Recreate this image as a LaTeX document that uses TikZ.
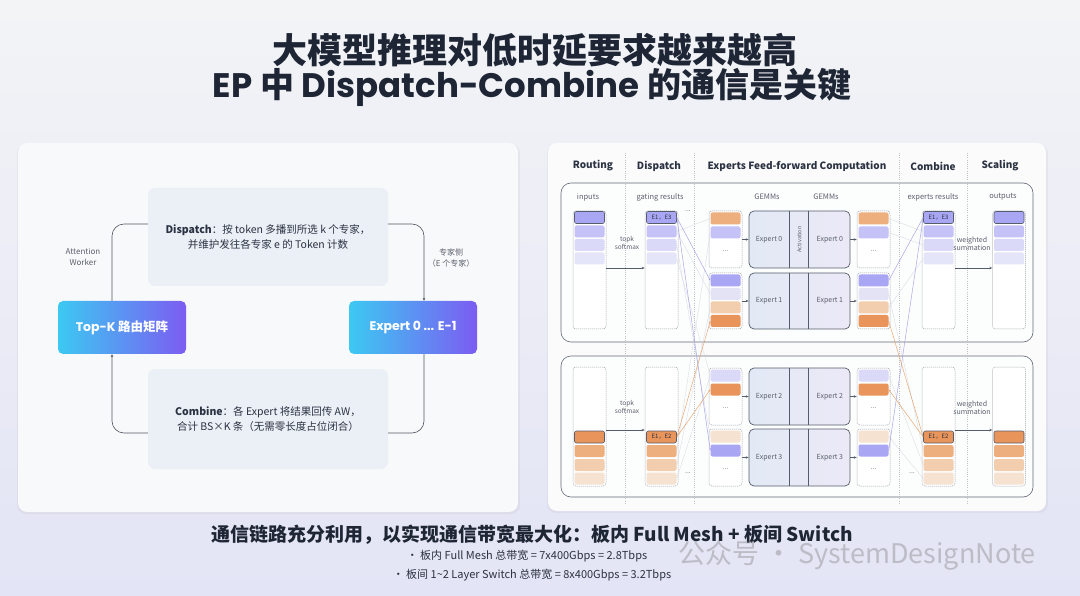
\documentclass[tikz,border=0pt]{standalone}
\usepackage{fontspec}
\setmainfont{Noto Sans CJK SC}
\newfontfamily\pop{Poppins}
\usetikzlibrary{arrows.meta,calc}
\newcommand\fsz[2]{\fontsize{#1}{#2}\selectfont}
\definecolor{ttl}{HTML}{1E2636}
\definecolor{txt}{HTML}{2B3242}
\definecolor{gry}{HTML}{5A606C}
\definecolor{panelc}{HTML}{F8F9FA}
\definecolor{boxbg}{HTML}{EBEFF6}
\definecolor{cyanc}{HTML}{3CC9F2}
\definecolor{purc}{HTML}{7C5CF2}
\definecolor{pA}{HTML}{A9A6F4}
\definecolor{pB}{HTML}{C4C2F6}
\definecolor{pC}{HTML}{DAD9F8}
\definecolor{pD}{HTML}{E5E5F9}
\definecolor{pL}{HTML}{E3E3F5}
\definecolor{oA}{HTML}{E8945A}
\definecolor{oB}{HTML}{EDAF7E}
\definecolor{oC}{HTML}{F2CEAF}
\definecolor{oD}{HTML}{F5E2D1}
\definecolor{colb}{HTML}{A2A6AE}
\definecolor{grpc}{HTML}{626977}
\definecolor{expl}{HTML}{E2E9F5}
\definecolor{expr}{HTML}{ECE9F7}
\definecolor{expd}{HTML}{555C6B}
\definecolor{bgtop}{HTML}{F3F4F6}
\definecolor{bgmid}{HTML}{EEF0F5}
\definecolor{bgbot}{HTML}{E3E4F5}
\definecolor{plin}{HTML}{9C99E4}
\definecolor{olin}{HTML}{E59A5C}
\definecolor{flin}{HTML}{C8CCDA}
\tikzset{
  mycol/.style={draw=colb, dash pattern=on 1.2pt off 0.8pt, line width=0.5pt, rounded corners=3pt, fill=white, minimum width=33pt, inner sep=0pt},
  mycell/.style={rounded corners=2pt, minimum width=30pt, minimum height=12pt, inner sep=0pt, font=\fsz{6}{7}, text=txt},
  myhi/.style={draw=expd, line width=0.6pt},
  mygrp/.style={draw=grpc, line width=0.6pt, rounded corners=10pt, fill=white!60!panelc},
  myhdr/.style={font=\bfseries\fsz{10}{12}, text=txt},
  myclab/.style={font=\fsz{7.5}{9}, text=gry},
  mysmall/.style={font=\fsz{6.5}{7.5}, text=gry, align=center},
  myelab/.style={font=\fsz{7}{8}, text=gry},
  mydots/.style={font=\fsz{7}{8}, text=gry},
  myarr/.style={-{Stealth[length=3pt,width=2.4pt]}, draw=expd, line width=0.6pt},
  myexp/.style={rounded corners=5pt, left color=expl, right color=expr, draw=expd, line width=0.7pt, minimum width=101pt, inner sep=0pt},
  mypl/.style={draw=plin, line width=0.5pt, opacity=0.85},
  myol/.style={draw=olin, line width=0.5pt, opacity=0.85},
  myfl/.style={draw=flin, line width=0.35pt, opacity=0.7},
  mysep/.style={draw=colb!70, line width=0.4pt, dash pattern=on 1pt off 1.2pt},
  mydbox/.style={fill=boxbg, rounded corners=7pt, minimum width=240pt, inner sep=0pt, align=center, font=\fsz{10.5}{15.5}, text=txt},
  mygrad/.style={rounded corners=5pt, left color=cyanc, right color=purc, minimum width=128pt, minimum height=53pt, inner sep=0pt, text=white, font=\pop\bfseries\fsz{12.5}{14}},
  myconn/.style={draw=gry!90!black, line width=0.6pt, rounded corners=12pt},
  myside/.style={font=\fsz{8}{10.5}, text=gry, align=center},
}
\begin{document}
\begin{tikzpicture}[x=1pt,y=-1pt]
\useasboundingbox (0,0) rectangle (1080,596);
\shade[top color=bgtop, middle color=bgmid, bottom color=bgbot] (0,0) rectangle (1080,596);
% title
\node[font=\bfseries\fsz{35}{40}, text=ttl] (t1) at (535,50) {大模型推理对低时延要求越来越高};
\node[font=\bfseries\fsz{34}{38}, text=ttl] (t2) at (532,87) {{\pop EP} 中 {\pop Dispatch-Combine} 的通信是关键};
% panels
\fill[black, opacity=0.04, rounded corners=9pt] (17,144) rectangle (520,514);
\fill[panelc, rounded corners=9pt] (18,143) rectangle (518,512);
\fill[black, opacity=0.04, rounded corners=9pt] (547,144) rectangle (1048,513);
\fill[white!40!panelc, rounded corners=9pt] (548,143) rectangle (1046,511);
% ---------------- left diagram
\node[mydbox, minimum height=98pt] (disp) at (268,237) {{\bfseries Dispatch}：按 token 多播到所选 k 个专家，\\并维护发往各专家 e 的 Token 计数};
\node[mydbox, minimum height=100pt] (comb) at (268,419) {{\bfseries Combine}：各 Expert 将结果回传 AW，\\合计 BS×K 条（无需零长度占位闭合）};
\node[mygrad] (topk) at (122,327.5) {Top-K {\rmfamily 路由矩阵}};
\node[mygrad] (expt) at (413,327.5) {Expert 0 ... E-1};
\draw[myconn] ([xshift=-10pt]topk.north) |- ([yshift=13pt]disp.west);
\draw[myconn, -{Stealth[length=3pt,width=2.6pt]}] ([yshift=13pt]disp.east) -| ([xshift=11pt]expt.north);
\draw[myconn] ([xshift=11pt]expt.south) |- ([yshift=-14pt]comb.east);
\draw[myconn, -{Stealth[length=3pt,width=2.6pt]}] ([yshift=-14pt]comb.west) -| ([xshift=-10pt]topk.south);
\node[myside] (aw) at (83,257) {Attention\\Worker};
\node[myside] (es) at (451,258) {专家侧\\（E 个专家）};
% ---------------- right diagram
\node[myhdr] (h1) at (593,166) {Routing};
\node[myhdr] (h2) at (659,166) {Dispatch};
\node[myhdr] (h3) at (797,166) {Experts Feed-forward Computation};
\node[myhdr] (h4) at (933,166) {Combine};
\node[myhdr] (h5) at (1000,166) {Scaling};
\draw[mygrp] (561,183) rectangle (1033,342);
\draw[mygrp] (561,356) rectangle (1033,497);
\foreach \xx in {625,694,899,967} \draw[mysep] (\xx,153) -- (\xx,503);
\node[myclab] (l1) at (588,197) {inputs};
\node[myclab] (l2) at (660,197) {gating results};
\node[myclab] (l3) at (767,197) {GEMMs};
\node[myclab] (l4) at (826,197) {GEMMs};
\node[myclab] (l5) at (933,197) {experts results};
\node[myclab] (l6) at (1003,197) {outputs};
% routing / gating / results / outputs columns (top)
\foreach \nm/\xx/\tx in {inT/589.5/{}, gT/661.5/{E1，E3}, rT/938.5/{E1，E3}, oT/1009/{}}{
  \node[mycol, minimum height=118pt] (\nm) at (\xx,270) {};
  \node[mycell, fill=pA, myhi] (\nm1) at (\xx,217.5) {\tx};
  \node[mycell, fill=pB] (\nm2) at (\xx,231.5) {};
  \node[mycell, fill=pC] (\nm3) at (\xx,245) {};
  \node[mycell, fill=pD] (\nm4) at (\xx,258.5) {};
}
\foreach \nm/\xx/\tx in {inB/589.5/{}, gB/661.5/{E1，E2}, rB/938.5/{E1，E2}, oB/1009/{}}{
  \node[mycol, minimum height=119pt] (\nm) at (\xx,426.5) {};
  \node[mycell, fill=oA, myhi] (\nm1) at (\xx,437) {\tx};
  \node[mycell, fill=oB] (\nm2) at (\xx,451) {};
  \node[mycell, fill=oC] (\nm3) at (\xx,465) {};
  \node[mycell, fill=oD] (\nm4) at (\xx,478.5) {};
}
% expert buffers (in: b, out: c)
\foreach \nm/\xx in {b/725.5, c/873.5}{
  \node[mycol, minimum height=57pt] (\nm0) at (\xx,239.5) {};
  \node[mycell, fill=oB] (\nm0a) at (\xx,218.5) {};
  \node[mycell, fill=pB] (\nm0b) at (\xx,232.5) {};
  \node[mydots] at (\xx,251) {...};
  \node[mycol, minimum height=56pt] (\nm1) at (\xx,301) {};
  \node[mycell, fill=pA] (\nm1a) at (\xx,280.5) {};
  \node[mycell, fill=pL] (\nm1b) at (\xx,294) {};
  \node[mycell, fill=oC] (\nm1c) at (\xx,307.5) {};
  \node[mycell, fill=oA] (\nm1d) at (\xx,321) {};
  \node[mycol, minimum height=57pt] (\nm2) at (\xx,396.5) {};
  \node[mycell, fill=pC] (\nm2a) at (\xx,375.5) {};
  \node[mycell, fill=oA] (\nm2b) at (\xx,389.5) {};
  \node[mydots] at (\xx,408) {...};
  \node[mycol, minimum height=57pt] (\nm3) at (\xx,457.5) {};
  \node[mycell, fill=oD] (\nm3a) at (\xx,436.5) {};
  \node[mycell, fill=pA] (\nm3b) at (\xx,450.5) {};
  \node[mydots] at (\xx,469) {...};
}
% expert boxes
\foreach \k/\yy/\hh in {0/239.5/57, 1/301/56, 2/396.5/57, 3/457.5/57}{
  \node[myexp, minimum height=\hh pt] (e\k) at (799.5,\yy) {};
  \draw[draw=expd, line width=0.6pt] ([xshift=41pt]e\k.north west) -- ([xshift=41pt]e\k.south west);
  \draw[draw=expd, line width=0.6pt] ([xshift=60pt]e\k.north west) -- ([xshift=60pt]e\k.south west);
  \node[myelab] at ([xshift=20.5pt]e\k.west) {Expert \k};
  \node[myelab] at ([xshift=-20.5pt]e\k.east) {Expert \k};
  \draw[myarr] (b\k.east) -- (e\k.west);
  \draw[myarr] (e\k.east) -- (c\k.west);
}
\node[font=\fsz{5.5}{6}, text=gry, rotate=90] (act) at ([xshift=50.5pt]e0.west) {Activation};
% topk / weighted arrows
\draw[myarr] ([yshift=2pt]inT.east) -- ([yshift=2pt]gT.west);
\draw[myarr] ([yshift=-3.5pt]inB.east) -- ([yshift=-3.5pt]gB.west);
\draw[myarr] ([yshift=2pt]rT.east) -- ([yshift=2pt]oT.west);
\draw[myarr] ([yshift=-3.5pt]rB.east) -- ([yshift=-3.5pt]oB.west);
\node[mysmall] (tk1) at (627,243) {topk\\softmax};
\node[mysmall] (tk2) at (627,407) {topk\\softmax};
\node[mysmall, font=\fsz{7}{8}] (ws1) at (972,244) {weighted\\summation};
\node[mysmall, font=\fsz{7}{8}] (ws2) at (972,408) {weighted\\summation};
\node[mydots] (d1) at (688,211) {...};
\node[mydots] (d2) at (688,473) {...};
\node[mydots] (d3) at (912,473) {...};
% faint routing lines
\draw[myfl] (gT2.east) -- (b0a.west);
\draw[myfl] (gT2.east) -- (b1b.west);
\draw[myfl] (gT3.east) -- (b3a.west);
\draw[myfl] (gT4.east) -- (b2a.west);
\draw[myfl] (gB2.east) -- (b0b.west);
\draw[myfl] (gB3.east) -- (b1c.west);
\draw[myfl] (gB4.east) -- (b2a.west);
\draw[myfl] (c0a.east) -- (rT2.west);
\draw[myfl] (c0b.east) -- (rT3.west);
\draw[myfl] (c1b.east) -- (rB2.west);
\draw[myfl] (c1c.east) -- (rT4.west);
\draw[myfl] (c2a.east) -- (rB3.west);
\draw[myfl] (c3a.east) -- (rB4.west);
% dispatch lines
\draw[mypl, -{Stealth[length=2.2pt,width=1.8pt]}] (gT1.east) -- (b1a.west);
\draw[mypl, -{Stealth[length=2.2pt,width=1.8pt]}] (gT1.east) -- (b3b.west);
\draw[myol, -{Stealth[length=2.2pt,width=1.8pt]}] (gB1.east) -- (b1d.west);
\draw[myol, -{Stealth[length=2.2pt,width=1.8pt]}] (gB1.east) -- (b2b.west);
% combine lines
\draw[mypl] (c1a.east) -- (rT1.west);
\draw[mypl] (c3b.east) -- (rT1.west);
\draw[myol] (c1d.east) -- (rB1.west);
\draw[myol, {Stealth[length=2.2pt,width=1.8pt]}-] (c2b.east) -- (rB1.west);
% bottom text
\node[font=\bfseries\fsz{19}{22}, text=ttl] (b1) at (532,535) {通信链路充分利用，以实现通信带宽最大化：板内 Full Mesh + 板间 Switch};
\node[font=\fsz{11}{13}, text=txt] (b2) at (527,556) {• 板内 Full Mesh 总带宽 = 7x400Gbps = 2.8Tbps};
\node[font=\fsz{11}{13}, text=txt] (b3) at (532,575) {• 板间 1\textasciitilde 2 Layer Switch 总带宽 = 8x400Gbps = 3.2Tbps};
\node[font=\fsz{27}{30}, text=gray, opacity=0.4] (wm) at (857,555) {公众号 · SystemDesignNote};
\end{tikzpicture}
\end{document}
